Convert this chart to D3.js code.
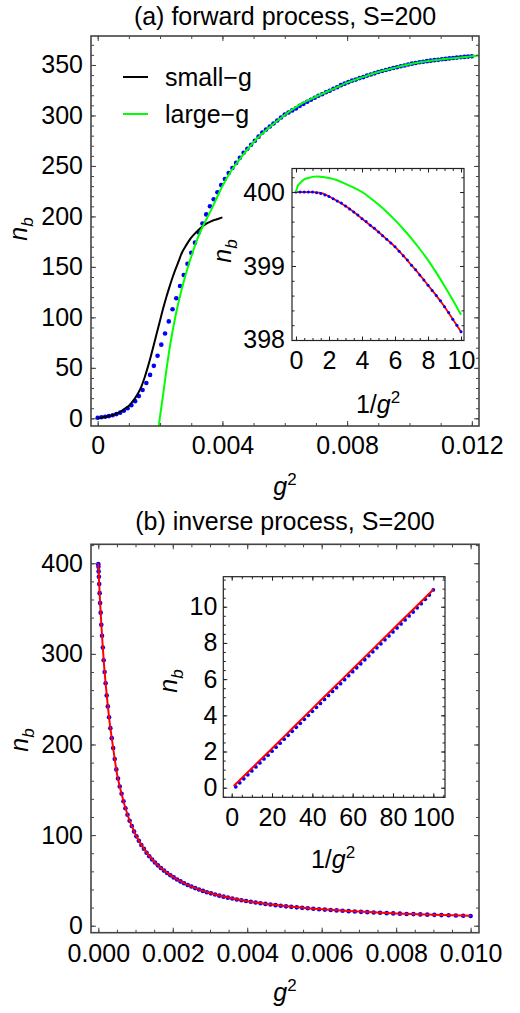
<!DOCTYPE html>
<html>
<head>
<meta charset="utf-8">
<script src="https://cdn.jsdelivr.net/npm/d3@7"></script>
<style>
  body { margin: 0; background: #fff; }
  text { font-family: "Liberation Sans", Arial, sans-serif; }
</style>
</head>
<body>
<div id="chart"></div>
<script>
"use strict";

// ---------- panel (a): forward process ----------
// simulated points (blue dots), g^2 and n_b
const aDotG2 = [0,0.00012,0.00024,0.00036,0.00048,0.0006,0.00072,0.00084,0.00096,0.00108,0.0012,0.00132,0.00144,0.00156,0.00168,0.0018,0.00192,0.00204,0.00216,0.00228,0.0024,0.00252,0.00264,0.00276,0.00288,0.003,0.00312,0.00324,0.00336,0.00348,0.0036,0.00372,0.00384,0.00396,0.00408,0.0042,0.00432,0.00444,0.00456,0.00468,0.0048,0.00492,0.00504,0.00516,0.00528,0.0054,0.00552,0.00564,0.00576,0.00588,0.006,0.00612,0.00624,0.00636,0.00648,0.0066,0.00672,0.00684,0.00696,0.00708,0.0072,0.00732,0.00744,0.00756,0.00768,0.0078,0.00792,0.00804,0.00816,0.00828,0.0084,0.00852,0.00864,0.00876,0.00888,0.009,0.00912,0.00924,0.00936,0.00948,0.0096,0.00972,0.00984,0.00996,0.01008,0.0102,0.01032,0.01044,0.01056,0.01068,0.0108,0.01092,0.01104,0.01116,0.01128,0.0114,0.01152,0.01164,0.01176,0.01188,0.012];
const aDotN = [0.5,1,1.5,2.2,3,4.2,5.6,7.5,10,13,17,22,28,35,43,52,62,73,84,96,108,119,131,142,153,164,174,184,193,202,210,217,224,231,237,243,248,253,258,263,267,271,275,279,283,286,289,292,295,298,301,303,305,307,309.5,311.5,313.5,315.5,317.5,319.5,321,323,324.5,326.5,328,330,331.5,333,334.5,335.5,337,338,339.5,340.5,341.7,343,344,345,346,347,347.8,348.7,349.5,350.5,351.3,352,352.7,353.2,353.8,354.3,354.8,355.2,355.6,356,356.5,356.9,357.3,357.6,358,358.3,358.7];

// small-g approximation (black)
const smallG2 = [0,0.0001,0.0002,0.0003,0.0004,0.0005,0.0006,0.0007,0.0008,0.0009,0.001,0.0011,0.0012,0.0013,0.0014,0.0015,0.0016,0.0017,0.0018,0.0019,0.002,0.0021,0.0022,0.0023,0.0024,0.0025,0.0026,0.0027,0.0028,0.0029,0.003,0.0031,0.0032,0.0033,0.0034,0.0035,0.0036,0.0037,0.0038,0.0039,0.004];
const smallN = [0,0.6,1.2,1.8,2.5,3.4,4.5,6,8,10.2,12.5,16,20,25,31.5,40,50,61,73,85,97,109,120,130,139.5,148,156,164,169.5,174.5,179,182.5,185.5,188.5,191,193,194.5,196,197,198,199];

// large-g approximation (green)
const largeG2 = [0.00195,0.002,0.0021,0.0022,0.0023,0.0024,0.0025,0.0026,0.0028,0.003,0.0032,0.0034,0.0036,0.0038,0.004,0.0043,0.0046,0.005,0.0055,0.006,0.0065,0.007,0.0075,0.008,0.0085,0.009,0.0095,0.01,0.0105,0.011,0.0115,0.012,0.0123];
const largeN = [-10,2,24,47,68,86,102,116,140,160,178,192,204,217,230,246,258.5,273.5,288,300.5,311,318.5,325.5,332.5,338,343,347,350.7,353.5,355.5,357,358.7,359.5];

// inset (a): n_b against 1/g^2
const inADotV = [0,0.25,0.5,0.75,1,1.25,1.5,1.75,2,2.25,2.5,2.75,3,3.25,3.5,3.75,4,4.25,4.5,4.75,5,5.25,5.5,5.75,6,6.25,6.5,6.75,7,7.25,7.5,7.75,8,8.25,8.5,8.75,9,9.25,9.5,9.75,10];
const inADotN = [400,400,400,400,400,399.99,399.98,399.96,399.94,399.91,399.88,399.85,399.81,399.77,399.73,399.69,399.64,399.6,399.55,399.51,399.46,399.41,399.36,399.31,399.26,399.2,399.14,399.08,399.01,398.95,398.88,398.81,398.74,398.67,398.6,398.53,398.45,398.37,398.28,398.2,398.11];
const inARedV = [0,0.5,1,1.5,2,2.5,3,3.5,4,4.5,5,5.5,6,6.5,7,7.5,8,8.5,9,9.5,10];
const inARedN = [400,400,400,399.99,399.94,399.88,399.81,399.73,399.64,399.55,399.46,399.36,399.26,399.14,399.01,398.88,398.74,398.6,398.45,398.28,398.11];
const inAGreenV = [0,0.1,0.25,0.5,0.75,1,1.25,1.5,2,2.5,3,3.5,4,4.5,5,5.5,6,6.5,7,7.5,8,8.5,9,9.5,10];
const inAGreenN = [400,400.08,400.12,400.17,400.19,400.205,400.21,400.208,400.19,400.16,400.11,400.06,400,399.92,399.83,399.73,399.62,399.5,399.37,399.23,399.08,398.91,398.73,398.54,398.34];

// ---------- panel (b): inverse process ----------
const bDotG2 = [1e-6,4e-6,9e-6,16e-6,25e-6,36e-6,49e-6,64e-6,81e-6,100e-6,121e-6,144e-6,169e-6,196e-6,225e-6,256e-6,289e-6,324e-6,361e-6,400e-6,441e-6,484e-6,529e-6,576e-6,625e-6,676e-6,729e-6,784e-6,841e-6,900e-6,961e-6,1024e-6,1089e-6,1156e-6,1225e-6,1296e-6,1369e-6,1444e-6,1521e-6,1600e-6,1681e-6,1764e-6,1849e-6,1936e-6,2025e-6,2116e-6,2209e-6,2304e-6,2401e-6,2500e-6,2601e-6,2704e-6,2809e-6,2916e-6,3025e-6,3136e-6,3249e-6,3364e-6,3481e-6,3600e-6,3721e-6,3844e-6,3969e-6,4096e-6,4225e-6,4356e-6,4489e-6,4624e-6,4761e-6,4900e-6,5041e-6,5184e-6,5329e-6,5476e-6,5625e-6,5776e-6,5929e-6,6084e-6,6241e-6,6400e-6,6561e-6,6724e-6,6889e-6,7056e-6,7225e-6,7396e-6,7569e-6,7744e-6,7921e-6,8100e-6,8281e-6,8464e-6,8649e-6,8836e-6,9025e-6,9216e-6,9409e-6,9604e-6,9801e-6,10000e-6];
const bDotN = [399,396,391,385,377,367,356,345.5,332,320,307,293,280,267.5,254,242,230,218,207,196,184,172.5,162.5,153.6,145.6,137.3,129.6,122.4,115.9,110,104,98.6,93.7,89.1,84.9,80.6,76.7,73.1,69.7,66.6,63.7,60.8,58.2,55.7,53.3,51,48.9,46.9,45,43.2,41.5,39.9,38.4,37,35.7,34.4,33.2,32.1,31,30,29,28.1,27.2,26.4,25.6,24.8,24.1,23.4,22.7,22,21.4,20.8,20.3,19.7,19.2,18.7,18.2,17.8,17.3,16.9,16.5,16.1,15.7,15.3,15,14.6,14.3,13.9,13.6,13.3,13,12.8,12.5,12.2,12,11.7,11.5,11.2,11,10.8];
const bFitG2 = [0,0.00002,0.00005,0.0001,0.00015,0.0002,0.0003,0.0004,0.0005,0.0006,0.0008,0.001,0.0012,0.0015,0.002,0.0025,0.003,0.004,0.005,0.006,0.007,0.008,0.009,0.01];
const bFitN = [400,381,355,320,290,266,226,196,168,149.5,120.5,100.7,86.5,70.7,54,43.2,36.1,27.1,21.8,18.2,15.6,13.6,12.1,10.9];

// inset (b): n_b against 1/g^2
const inBDotV = [2,4,6,8,10,12,14,16,18,20,22,24,26,28,30,32,34,36,38,40,42,44,46,48,50,52,54,56,58,60,62,64,66,68,70,72,74,76,78,80,82,84,86,88,90,92,94,96,98,100];
const inBDotN = [0.05,0.27,0.49,0.71,0.93,1.15,1.37,1.59,1.8,2.02,2.24,2.46,2.68,2.9,3.12,3.34,3.56,3.78,4,4.22,4.44,4.66,4.88,5.1,5.32,5.53,5.75,5.97,6.19,6.41,6.63,6.85,7.07,7.29,7.51,7.73,7.95,8.17,8.39,8.61,8.83,9.05,9.27,9.49,9.71,9.94,10.17,10.41,10.65,10.93];
const inBRedV = [1,10,20,30,40,50,60,70,80,90,100];
const inBRedN = [0.09,1.08,2.17,3.27,4.37,5.47,6.56,7.66,8.76,9.85,10.95];

// tick labels
const aXTicks = [0, 0.004, 0.008, 0.012];
const aXLabels = ["0", "0.004", "0.008", "0.012"];
const aYTicks = [0, 50, 100, 150, 200, 250, 300, 350];
const inAXTicks = [0, 2, 4, 6, 8, 10];
const inAYTicks = [398, 399, 400];
const bXTicks = [0, 0.002, 0.004, 0.006, 0.008, 0.010];
const bXLabels = ["0.000", "0.002", "0.004", "0.006", "0.008", "0.010"];
const bYTicks = [0, 100, 200, 300, 400];
const inBXTicks = [0, 20, 40, 60, 80, 100];
const inBYTicks = [0, 2, 4, 6, 8, 10];

const legendNames = ["small\u2212g", "large\u2212g"];
const legendColors = ["#000000", "#00ff00"];

const FONT = 25;
const BLUE = "#0000ff", RED = "#ff0000", GREEN = "#00ff00";

let svg = d3.select("#chart").append("svg")
    .attr("width", 520)
    .attr("height", 1013)
    .style("display", "block");

// frame with inward ticks on all four sides
function drawFrame(box, x, y, o) {
    let frameColor = o.color || "#444";
    let major = o.major || 5, minor = o.minor || 3;
    let font = function (g) {
        g.select(".domain").remove();
        g.selectAll("line").attr("stroke", frameColor).attr("stroke-width", 1);
        g.selectAll("text").attr("font-size", FONT).attr("fill", "#000")
            .attr("font-family", '"Liberation Sans", Arial, sans-serif');
    };
    let xMinor = d3.range(o.xMinor[0], o.xMinor[1] + 1e-12, o.xMinor[2]);
    let yMinor = d3.range(o.yMinor[0], o.yMinor[1] + 1e-12, o.yMinor[2]);

    // minor ticks
    svg.append("g").attr("transform", "translate(0," + box.bottom + ")")
        .call(d3.axisBottom(x).tickValues(xMinor).tickFormat("").tickSizeInner(-minor).tickSizeOuter(0)).call(font);
    svg.append("g").attr("transform", "translate(0," + box.top + ")")
        .call(d3.axisTop(x).tickValues(xMinor).tickFormat("").tickSizeInner(-minor).tickSizeOuter(0)).call(font);
    svg.append("g").attr("transform", "translate(" + box.left + ",0)")
        .call(d3.axisLeft(y).tickValues(yMinor).tickFormat("").tickSizeInner(-minor).tickSizeOuter(0)).call(font);
    svg.append("g").attr("transform", "translate(" + box.right + ",0)")
        .call(d3.axisRight(y).tickValues(yMinor).tickFormat("").tickSizeInner(-minor).tickSizeOuter(0)).call(font);

    // major ticks with labels
    svg.append("g").attr("transform", "translate(0," + box.bottom + ")")
        .call(d3.axisBottom(x).tickValues(o.xTicks).tickFormat((d, i) => o.xLabels ? o.xLabels[i] : d)
            .tickSizeInner(-major).tickSizeOuter(0).tickPadding(o.xPad)).call(font);
    svg.append("g").attr("transform", "translate(0," + box.top + ")")
        .call(d3.axisTop(x).tickValues(o.xTicks).tickFormat("").tickSizeInner(-major).tickSizeOuter(0)).call(font);
    svg.append("g").attr("transform", "translate(" + box.left + ",0)")
        .call(d3.axisLeft(y).tickValues(o.yTicks).tickFormat(d => d)
            .tickSizeInner(-major).tickSizeOuter(0).tickPadding(o.yPad)).call(font);
    svg.append("g").attr("transform", "translate(" + box.right + ",0)")
        .call(d3.axisRight(y).tickValues(o.yTicks).tickFormat("").tickSizeInner(-major).tickSizeOuter(0)).call(font);

    svg.append("rect")
        .attr("x", box.left).attr("y", box.top)
        .attr("width", box.right - box.left).attr("height", box.bottom - box.top)
        .attr("fill", "none").attr("stroke", frameColor).attr("stroke-width", o.width || 1.6);
}

function clipFor(id, box) {
    svg.append("clipPath").attr("id", id).append("rect")
        .attr("x", box.left).attr("y", box.top)
        .attr("width", box.right - box.left).attr("height", box.bottom - box.top);
    return "url(#" + id + ")";
}

function drawLine(xs, ys, x, y, color, width, clip) {
    let pts = xs.map((v, i) => [v, ys[i]]);
    svg.append("path")
        .datum(pts)
        .attr("clip-path", clip)
        .attr("fill", "none")
        .attr("stroke", color)
        .attr("stroke-width", width)
        .attr("stroke-linejoin", "round")
        .attr("d", d3.line().x(d => x(d[0])).y(d => y(d[1])).curve(d3.curveMonotoneX));
}

function drawDots(xs, ys, x, y, r, clip) {
    svg.append("g").attr("clip-path", clip)
        .selectAll("circle")
        .data(xs.map((v, i) => [v, ys[i]]))
        .enter()
        .append("circle")
        .attr("cx", d => x(d[0]))
        .attr("cy", d => y(d[1]))
        .attr("r", r)
        .attr("fill", BLUE);
}

// n_b label, rotated
function labelNb(cx, cy) {
    let t = svg.append("text")
        .attr("transform", "translate(" + cx + "," + cy + ") rotate(-90)")
        .attr("text-anchor", "middle")
        .attr("font-size", FONT);
    t.append("tspan").attr("font-style", "italic").text("n");
    t.append("tspan").attr("font-style", "italic").attr("font-size", 17).attr("dy", 6).text("b");
}

// g^2 or 1/g^2 label
function labelG2(cx, baseline, prefix) {
    let t = svg.append("text")
        .attr("x", cx).attr("y", baseline)
        .attr("text-anchor", "middle")
        .attr("font-size", FONT);
    if (prefix) t.append("tspan").text(prefix);
    t.append("tspan").attr("font-style", "italic").text("g");
    t.append("tspan").attr("font-size", 17).attr("dy", -10).text("2");
}

function title(cx, baseline, s) {
    svg.append("text").attr("x", cx).attr("y", baseline)
        .attr("text-anchor", "middle").attr("font-size", FONT).text(s);
}

// ================= panel (a) =================
let boxA = {left: 91, right: 479, top: 36, bottom: 426};
let xA = d3.scaleLinear().domain([-0.000215, 0.01223]).range([boxA.left, boxA.right]);
let yA = d3.scaleLinear().domain([-7.6, 378.7]).range([boxA.bottom, boxA.top]);
let clipA = clipFor("clipA", boxA);

drawDots(aDotG2, aDotN, xA, yA, 2.3, clipA);
drawLine(smallG2, smallN, xA, yA, "#000", 2, clipA);
drawLine(largeG2, largeN, xA, yA, GREEN, 2, clipA);

drawFrame(boxA, xA, yA, {
    xTicks: aXTicks, xLabels: aXLabels, yTicks: aYTicks,
    xMinor: [0, 0.012, 0.001], yMinor: [0, 370, 10],
    xPad: 10, yPad: 8
});

// legend
legendNames.forEach((name, i) => {
    let ly = 77 + i * 37;
    svg.append("line").attr("x1", 123).attr("x2", 148).attr("y1", ly).attr("y2", ly)
        .attr("stroke", legendColors[i]).attr("stroke-width", 2);
    svg.append("text").attr("x", 165).attr("y", ly + 9).attr("font-size", FONT).text(name);
});

title(285, 25, "(a) forward process, S=200");
labelNb(27, 229);
labelG2(285, 495);

// inset (a)
let boxIA = {left: 292, right: 464, top: 168.5, bottom: 340.5};
let xIA = d3.scaleLinear().domain([-0.242, 10.18]).range([boxIA.left, boxIA.right]);
let yIA = d3.scaleLinear().domain([397.993, 400.318]).range([boxIA.bottom, boxIA.top]);
svg.append("rect").attr("x", boxIA.left).attr("y", boxIA.top)
    .attr("width", boxIA.right - boxIA.left).attr("height", boxIA.bottom - boxIA.top).attr("fill", "#fff");
let clipIA = clipFor("clipIA", boxIA);
drawLine(inARedV, inARedN, xIA, yIA, RED, 1.8, clipIA);
drawDots(inADotV, inADotN, xIA, yIA, 1.5, clipIA);
drawLine(inAGreenV, inAGreenN, xIA, yIA, GREEN, 2, clipIA);
drawFrame(boxIA, xIA, yIA, {
    xTicks: inAXTicks, yTicks: inAYTicks,
    xMinor: [0, 10, 0.5], yMinor: [398, 400.2, 0.2],
    xPad: 10.5, yPad: 7, major: 4, minor: 2.5, color: "#222", width: 1.2
});
labelNb(231, 251);
labelG2(378, 413, "1/");

// ================= panel (b) =================
let boxB = {left: 91, right: 479, top: 544.3, bottom: 932.7};
let xB = d3.scaleLinear().domain([-0.000196, 0.010225]).range([boxB.left, boxB.right]);
let yB = d3.scaleLinear().domain([-7.7, 420.9]).range([boxB.bottom, boxB.top]);
let clipB = clipFor("clipB", boxB);

drawDots(bDotG2, bDotN, xB, yB, 2.3, clipB);
drawLine(bFitG2, bFitN, xB, yB, RED, 2, clipB);

drawFrame(boxB, xB, yB, {
    xTicks: bXTicks, xLabels: bXLabels, yTicks: bYTicks,
    xMinor: [0, 0.0102, 0.0005], yMinor: [0, 420, 20],
    xPad: 12, yPad: 8
});

title(285, 530, "(b) inverse process, S=200");
labelNb(28, 740);
labelG2(285, 1001);

// inset (b)
let boxIB = {left: 223.3, right: 445, top: 576.7, bottom: 797.3};
let xIB = d3.scaleLinear().domain([-4.17, 105.8]).range([boxIB.left, boxIB.right]);
let yIB = d3.scaleLinear().domain([-0.53, 11.66]).range([boxIB.bottom, boxIB.top]);
svg.append("rect").attr("x", boxIB.left).attr("y", boxIB.top)
    .attr("width", boxIB.right - boxIB.left).attr("height", boxIB.bottom - boxIB.top).attr("fill", "#fff");
let clipIB = clipFor("clipIB", boxIB);
drawDots(inBDotV, inBDotN, xIB, yIB, 1.9, clipIB);
drawLine(inBRedV, inBRedN, xIB, yIB, RED, 2, clipIB);
drawFrame(boxIB, xIB, yIB, {
    xTicks: inBXTicks, yTicks: inBYTicks,
    xMinor: [0, 105, 5], yMinor: [-0.5, 11.5, 0.5],
    xPad: 10.5, yPad: 6, major: 4, minor: 2.5, color: "#222", width: 1.2
});
labelNb(177, 681);
labelG2(333, 868, "1/");
</script>
</body>
</html>
